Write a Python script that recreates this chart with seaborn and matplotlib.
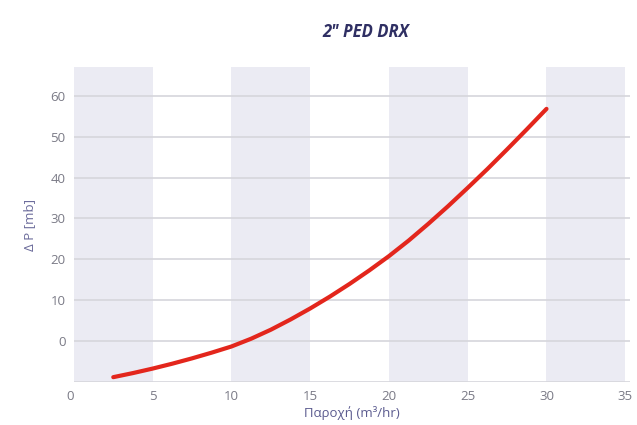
import matplotlib
matplotlib.use("Agg")
import matplotlib.pyplot as plt
import seaborn as sns
import pandas as pd

# flow (m3/hr) vs pressure drop (mbar)
flow = [2.5, 3.75, 5, 6.25, 7.5, 8.75, 10, 11.25, 12.5, 13.75, 15, 16.25,
        17.5, 18.75, 20, 21.25, 22.5, 23.75, 25, 26.25, 27.5, 28.75, 30]
dp = [-8.8, -7.8, -6.7, -5.5, -4.2, -2.8, -1.3, 0.6, 2.8, 5.3, 8.0, 10.9,
      14.0, 17.3, 20.8, 24.6, 28.7, 33.0, 37.5, 42.1, 46.9, 51.8, 56.8]
x_ticks = [0, 5, 10, 15, 20, 25, 30, 35]
y_ticks = [0, 10, 20, 30, 40, 50, 60]
title = '2" PED DRX'

sns.set_style("white")
plt.rcParams['font.family'] = ['Open Sans', 'DejaVu Sans']

df = pd.DataFrame({"flow": flow, "dp": dp})

fig = plt.figure(figsize=(6.37, 4.25), dpi=100)
ax = fig.add_axes([0.116, 0.101, 0.873, 0.741])

# alternating shaded columns
for start in x_ticks[::2]:
    ax.axvspan(start, start + 5, color="#ebebf3", lw=0, zorder=0)

for yv in [-10] + y_ticks:
    ax.axhline(yv, color="#d6d6dc", lw=1.2, zorder=1)

sns.lineplot(data=df, x="flow", y="dp", ax=ax, color="#e3261c", lw=3,
             zorder=3, solid_capstyle="round", solid_joinstyle="round")

ax.set_xlim(0, 35.3)
ax.set_ylim(-10, 67)
ax.set_xticks(x_ticks)
ax.set_yticks(y_ticks)
ax.tick_params(length=0, labelsize=9.5, colors="#7a7a86", pad=6)
ax.get_xticklabels()[0].set_ha("right")
for s in ax.spines.values():
    s.set_visible(False)

ax.set_xlabel("Παροχή (m³/hr)", color="#5b5b8f", fontsize=9.5, labelpad=2)
ax.set_ylabel("Δ P [mb]", color="#6a6a9a", fontsize=9.5, labelpad=10)
fig.text(0.575, 0.925, title, ha="center", va="center", fontsize=12,
         fontweight="bold", fontstyle="italic", color="#2f2f63")

fig.savefig("out.png", dpi=100)
